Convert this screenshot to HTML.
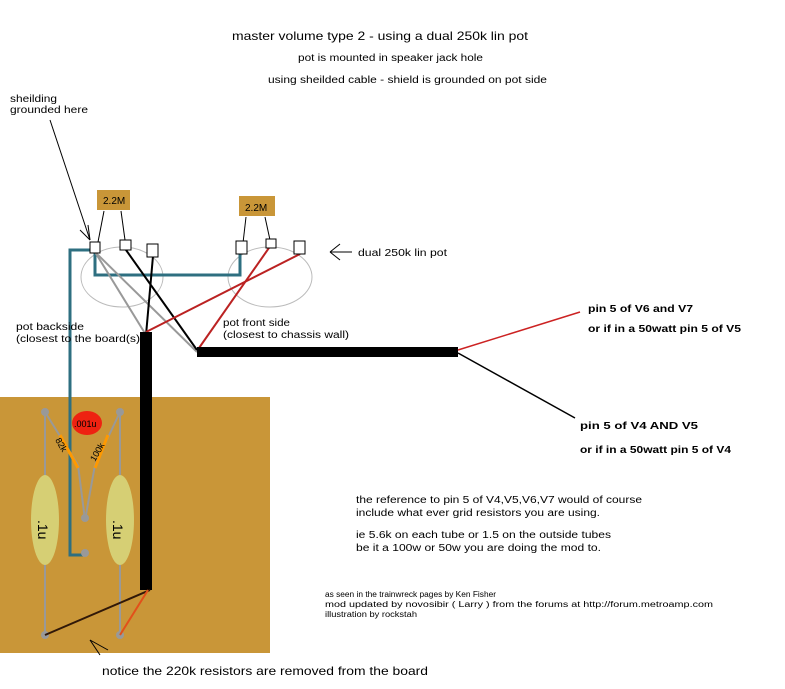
<!DOCTYPE html>
<html><head><style>
body{margin:0;width:785px;height:689px;background:#fff;overflow:hidden}
svg{display:block}
text{font-family:"Liberation Sans",sans-serif;fill:#000}
</style></head><body>
<svg width="785" height="689" viewBox="0 0 785 689">
<rect x="0" y="397" width="270" height="256" fill="#c99638"/>
<text x="232" y="40" font-size="12" textLength="296" lengthAdjust="spacingAndGlyphs">master volume type 2 - using a dual 250k lin pot</text>
<text x="298" y="61" font-size="10" textLength="185" lengthAdjust="spacingAndGlyphs">pot is mounted in speaker jack hole</text>
<text x="268" y="83" font-size="10" textLength="279" lengthAdjust="spacingAndGlyphs">using sheilded cable - shield is grounded on pot side</text>
<text x="10" y="102" font-size="10" textLength="47" lengthAdjust="spacingAndGlyphs">sheilding</text>
<text x="10" y="113" font-size="10" textLength="78" lengthAdjust="spacingAndGlyphs">grounded here</text>
<line x1="50" y1="120" x2="90" y2="240" stroke="#000" stroke-width="1"/>
<line x1="80" y1="230" x2="90" y2="240" stroke="#000"/><line x1="88" y1="225" x2="90" y2="240" stroke="#000"/>
<ellipse cx="122" cy="277" rx="41" ry="30" fill="none" stroke="#bbb"/>
<ellipse cx="270" cy="277" rx="42" ry="30" fill="none" stroke="#bbb"/>
<rect x="97" y="190" width="33" height="20" fill="#c99638"/><text x="103" y="204" font-size="10">2.2M</text>
<rect x="239" y="196" width="36" height="20" fill="#c99638"/><text x="245" y="211" font-size="10">2.2M</text>
<line x1="104" y1="211" x2="98" y2="242" stroke="#000"/><line x1="121" y1="211" x2="125" y2="240" stroke="#000"/>
<line x1="246" y1="217" x2="243" y2="243" stroke="#000"/><line x1="265" y1="217" x2="270" y2="240" stroke="#000"/>
<polyline points="95,250 95,275 240,275 240,250" fill="none" stroke="#2e6f80" stroke-width="3"/>
<polyline points="95,250 70,250 70,555 85,555" fill="none" stroke="#2e6f80" stroke-width="3"/>
<line x1="95" y1="252" x2="197" y2="352" stroke="#999" stroke-width="2"/>
<line x1="95" y1="252" x2="146" y2="335" stroke="#999" stroke-width="2"/>
<line x1="126" y1="250" x2="197" y2="350" stroke="#000" stroke-width="2"/>
<line x1="153" y1="256" x2="146" y2="335" stroke="#000" stroke-width="2"/>
<line x1="300" y1="254" x2="146" y2="332" stroke="#b22" stroke-width="2"/>
<line x1="271" y1="245" x2="199" y2="348" stroke="#b22" stroke-width="2"/>
<rect x="90" y="242" width="10" height="11" fill="#fff" stroke="#000"/>
<rect x="120" y="240" width="11" height="10" fill="#fff" stroke="#000"/>
<rect x="147" y="244" width="11" height="13" fill="#fff" stroke="#000"/>
<rect x="236" y="241" width="11" height="13" fill="#fff" stroke="#000"/>
<rect x="266" y="239" width="10" height="9" fill="#fff" stroke="#000"/>
<rect x="294" y="241" width="11" height="13" fill="#fff" stroke="#000"/>
<line x1="330" y1="252" x2="352" y2="252" stroke="#000"/><line x1="330" y1="252" x2="340" y2="244" stroke="#000"/><line x1="330" y1="252" x2="340" y2="260" stroke="#000"/>
<text x="358" y="256" font-size="10" textLength="89" lengthAdjust="spacingAndGlyphs">dual 250k lin pot</text>
<text x="16" y="330" font-size="10" textLength="68" lengthAdjust="spacingAndGlyphs">pot backside</text>
<text x="16" y="342" font-size="10" textLength="124" lengthAdjust="spacingAndGlyphs">(closest to the board(s)</text>
<text x="223" y="326" font-size="10" textLength="67" lengthAdjust="spacingAndGlyphs">pot front side</text>
<text x="223" y="338" font-size="10" textLength="126" lengthAdjust="spacingAndGlyphs">(closest to chassis wall)</text>
<rect x="140" y="332" width="12" height="258" fill="#000"/>
<rect x="197" y="347" width="261" height="10" fill="#000"/>
<line x1="458" y1="350" x2="580" y2="312" stroke="#c22" stroke-width="1.5"/>
<line x1="458" y1="353" x2="575" y2="418" stroke="#000" stroke-width="1.5"/>
<text x="588" y="312" font-size="10" font-weight="bold" textLength="105" lengthAdjust="spacingAndGlyphs">pin 5 of V6 and V7</text>
<text x="588" y="332" font-size="10" font-weight="bold" textLength="153" lengthAdjust="spacingAndGlyphs">or if in a 50watt pin 5 of V5</text>
<text x="580" y="429" font-size="10" font-weight="bold" textLength="118" lengthAdjust="spacingAndGlyphs">pin 5 of V4 AND V5</text>
<text x="580" y="453" font-size="10" font-weight="bold" textLength="151" lengthAdjust="spacingAndGlyphs">or if in a 50watt pin 5 of V4</text>
<g stroke="#999" stroke-width="2">
<line x1="45" y1="412" x2="45" y2="635"/><line x1="120" y1="412" x2="120" y2="635"/>
<line x1="45" y1="412" x2="78" y2="465"/><line x1="120" y1="412" x2="95" y2="465"/>
<line x1="78" y1="465" x2="85" y2="520"/><line x1="95" y1="465" x2="85" y2="520"/>
</g>
<line x1="60" y1="435" x2="78" y2="468" stroke="#f90" stroke-width="3"/>
<line x1="108" y1="435" x2="95" y2="468" stroke="#f90" stroke-width="3"/>
<g fill="#999"><circle cx="45" cy="412" r="4"/><circle cx="120" cy="412" r="4"/><circle cx="85" cy="518" r="4"/><circle cx="85" cy="553" r="4"/><circle cx="45" cy="635" r="4"/><circle cx="120" cy="635" r="4"/></g>
<ellipse cx="87" cy="423" rx="15" ry="12" fill="#e21"/>
<text x="74" y="427" font-size="9" fill="#700">.001u</text>
<text x="55" y="440" font-size="9" transform="rotate(60 55 440)">82k</text>
<text x="95" y="462" font-size="9" transform="rotate(-60 95 462)">100k</text>
<ellipse cx="45" cy="520" rx="14" ry="45" fill="#d6cf74"/>
<ellipse cx="120" cy="520" rx="14" ry="45" fill="#d6cf74"/>
<text x="38" y="520" font-size="14" transform="rotate(90 38 520)">.1u</text>
<text x="113" y="520" font-size="14" transform="rotate(90 113 520)">.1u</text>
<line x1="150" y1="590" x2="45" y2="635" stroke="#301808" stroke-width="2"/>
<line x1="148" y1="590" x2="120" y2="635" stroke="#e2501a" stroke-width="2"/>
<line x1="90" y1="640" x2="100" y2="655" stroke="#000"/><line x1="90" y1="640" x2="108" y2="650" stroke="#000"/>
<text x="102" y="675" font-size="12" textLength="326" lengthAdjust="spacingAndGlyphs">notice the 220k resistors are removed from the board</text>
<text x="356" y="503" font-size="10" textLength="286" lengthAdjust="spacingAndGlyphs">the reference to pin 5 of V4,V5,V6,V7 would of course</text>
<text x="356" y="516" font-size="10" textLength="244" lengthAdjust="spacingAndGlyphs">include what ever grid resistors you are using.</text>
<text x="356" y="538" font-size="10" textLength="255" lengthAdjust="spacingAndGlyphs">ie 5.6k on each tube or 1.5 on the outside tubes</text>
<text x="356" y="551" font-size="10" textLength="245" lengthAdjust="spacingAndGlyphs">be it a 100w or 50w you are doing the mod to.</text>
<text x="325" y="597" font-size="8" textLength="171" lengthAdjust="spacingAndGlyphs">as seen in the trainwreck pages by Ken Fisher</text>
<text x="325" y="607" font-size="8" textLength="388" lengthAdjust="spacingAndGlyphs">mod updated by novosibir ( Larry ) from the forums at http://forum.metroamp.com</text>
<text x="325" y="617" font-size="8" textLength="92" lengthAdjust="spacingAndGlyphs">illustration by rockstah</text>
</svg>
</body></html>
